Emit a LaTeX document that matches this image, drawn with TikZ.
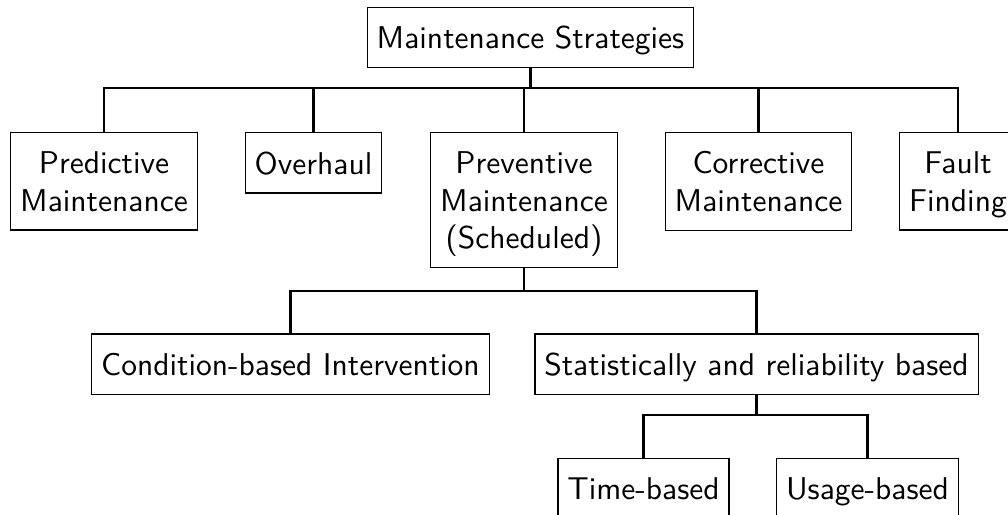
\documentclass[tikz,border=0pt]{standalone}
\usepackage{xcolor}
\usetikzlibrary{
		calc,
		positioning
	}
\tikzset{
		box/.style={draw=black, line width=0.4pt, font=\sffamily, align=center, inner xsep=3pt, inner ysep=6pt, text depth=0pt},
		link/.style={draw=black, line width=0.65pt}
	}

\begin{document}
\begin{tikzpicture}[x=0.3175pt, y=-0.3175pt]
    % the frame of the picture (the boxes at the border are cut off)
    \useasboundingbox (0,0) rectangle (1008,515);
    \clip (0,0) rectangle (1008,515);

    % the root
    \node[box] (root) at (530.5,37.5) {Maintenance Strategies};

    % the first row of strategies
    \node[box, anchor=north] (pred) at (104,132) {Predictive\\Maintenance};
    \node[box, anchor=north] (over) at (313.5,132) {Overhaul};
    \node[box, anchor=north] (prev) at (524,132) {Preventive\\Maintenance\\(Scheduled)};
    \node[box, anchor=north] (corr) at (758.5,132) {Corrective\\Maintenance};
    \node[box, anchor=north] (fault) at (958,132) {Fault\\Finding};

    % the kinds of preventive maintenance
    \node[box, anchor=north] (cond) at (290.5,333.5) {Condition-based Intervention};
    \node[box, anchor=north] (stat) at (756.5,333.5) {Statistically and reliability based};

    % the kinds of statistical maintenance
    \node[box, anchor=north] (time) at (643.5,458) {Time-based};
    \node[box, anchor=north] (usage) at (867.5,458) {Usage-based};

    % the levels where the lines branch off
    \coordinate (bus1) at (0,88);
    \coordinate (bus2) at (0,291);
    \coordinate (bus3) at (0,415);

    % draw the lines
    \draw[link] (root.south) -- (root.south |- bus1) -| (pred.north);
    \draw[link] (root.south) -- (root.south |- bus1) -| (over.north);
    \draw[link] (root.south) -- (root.south |- bus1) -| (prev.north);
    \draw[link] (root.south) -- (root.south |- bus1) -| (corr.north);
    \draw[link] (root.south) -- (root.south |- bus1) -| (fault.north);

    \draw[link] (prev.south) -- (prev.south |- bus2) -| (cond.north);
    \draw[link] (prev.south) -- (prev.south |- bus2) -| (stat.north);

    \draw[link] (stat.south) -- (stat.south |- bus3) -| (time.north);
    \draw[link] (stat.south) -- (stat.south |- bus3) -| (usage.north);

\end{tikzpicture}
\end{document}
